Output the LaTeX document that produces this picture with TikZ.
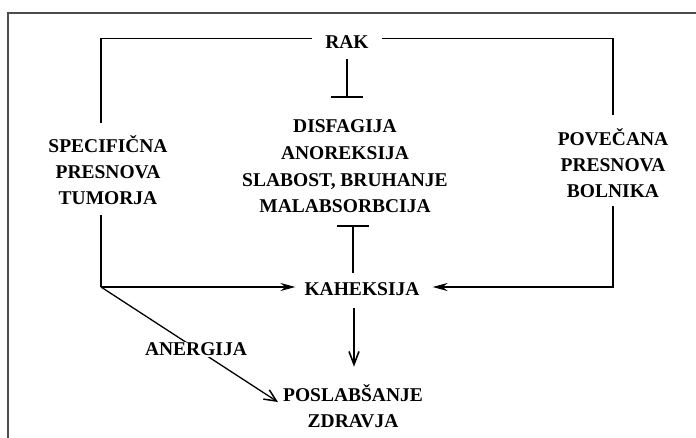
\documentclass[tikz,border=0pt]{standalone}
\usepackage{fontspec}
\setmainfont{Liberation Serif}
\usetikzlibrary{arrows.meta}
\begin{document}
\begin{tikzpicture}[x=1pt,y=-1pt,
  lbl/.style={font=\bfseries\fontsize{19.5}{26}\selectfont, inner sep=0pt, align=center},
  lblwide/.style={font=\bfseries\fontsize{19.5}{26.7}\selectfont, inner sep=0pt, align=center},
  conn/.style={line width=1.8pt},
  frameline/.style={line width=1.5pt, black!70},
  harr/.style={line width=1.8pt, -{Stealth[length=15pt,width=8pt,inset=5pt]}},
  darr/.style={line width=1.8pt, -{Straight Barb[length=13pt,width=10pt,line width=1.6pt]}},
  diag/.style={line width=1.3pt, -{Straight Barb[length=12pt,width=11pt,line width=1.5pt]}},
  inh/.style={line width=1.8pt, -{Bar[width=32pt,line width=2pt]}}]
\useasboundingbox (0,0) rectangle (696,438);
\fill[white] (0,0) rectangle (696,438);
% frame
\coordinate (fBL) at (8,438);
\coordinate (fTL) at (8,13);
\coordinate (fTR) at (696,13);
\draw[frameline] (fBL) -- (fTL) -- (fTR);
% nodes
\node[lbl] (rak) at (347,42.5) {RAK};
\node[lbl] (spec) at (108,170) {SPECIFIČNA\\PRESNOVA\\TUMORJA};
\node[lblwide] (sym) at (345,166.5) {DISFAGIJA\\ANOREKSIJA\\SLABOST, BRUHANJE\\MALABSORBCIJA};
\node[lbl] (pov) at (613,163.5) {POVEČANA\\PRESNOVA\\BOLNIKA};
\node[lbl] (kah) at (362,289.5) {KAHEKSIJA};
\node[lbl] (pz) at (353,406.5) {POSLABŠANJE\\ZDRAVJA};
% junction coordinates
\coordinate (sT) at (101,123);
\coordinate (sB) at (101,215);
\coordinate (jL) at (101,287);
\coordinate (pT) at (613,115);
\coordinate (pB) at (613,206);
\coordinate (jR) at (613,287);
% connectors
\draw[conn] ([xshift=-13pt,yshift=4pt]rak.west) -| (sT);
\draw[conn] ([xshift=13pt,yshift=4pt]rak.east) -| (pT);
\draw[inh] ([yshift=-10pt]rak.south) -- ([yshift=22pt]rak.south |- sym.north);
\draw[inh] ([xshift=-9pt,yshift=10pt]kah.north) -- ([xshift=-9pt,yshift=-12pt]kah.north |- sym.south);
\draw[conn] (sB) -- (jL);
\draw[harr] (jL) -- ([xshift=-9pt]kah.west |- jL);
\draw[harr] (pB) -- (jR) -- ([xshift=13pt]kah.east |- jR);
\draw[darr] ([xshift=-8pt,yshift=-12pt]kah.south) -- ([xshift=-8pt,yshift=18pt]kah.south |- pz.north);
\draw[diag] (jL) -- ([xshift=-5pt,yshift=4.5pt]pz.west);
\node[lbl, fill=white, inner sep=1pt] (ane) at (196,349.5) {ANERGIJA};
\end{tikzpicture}
\end{document}
